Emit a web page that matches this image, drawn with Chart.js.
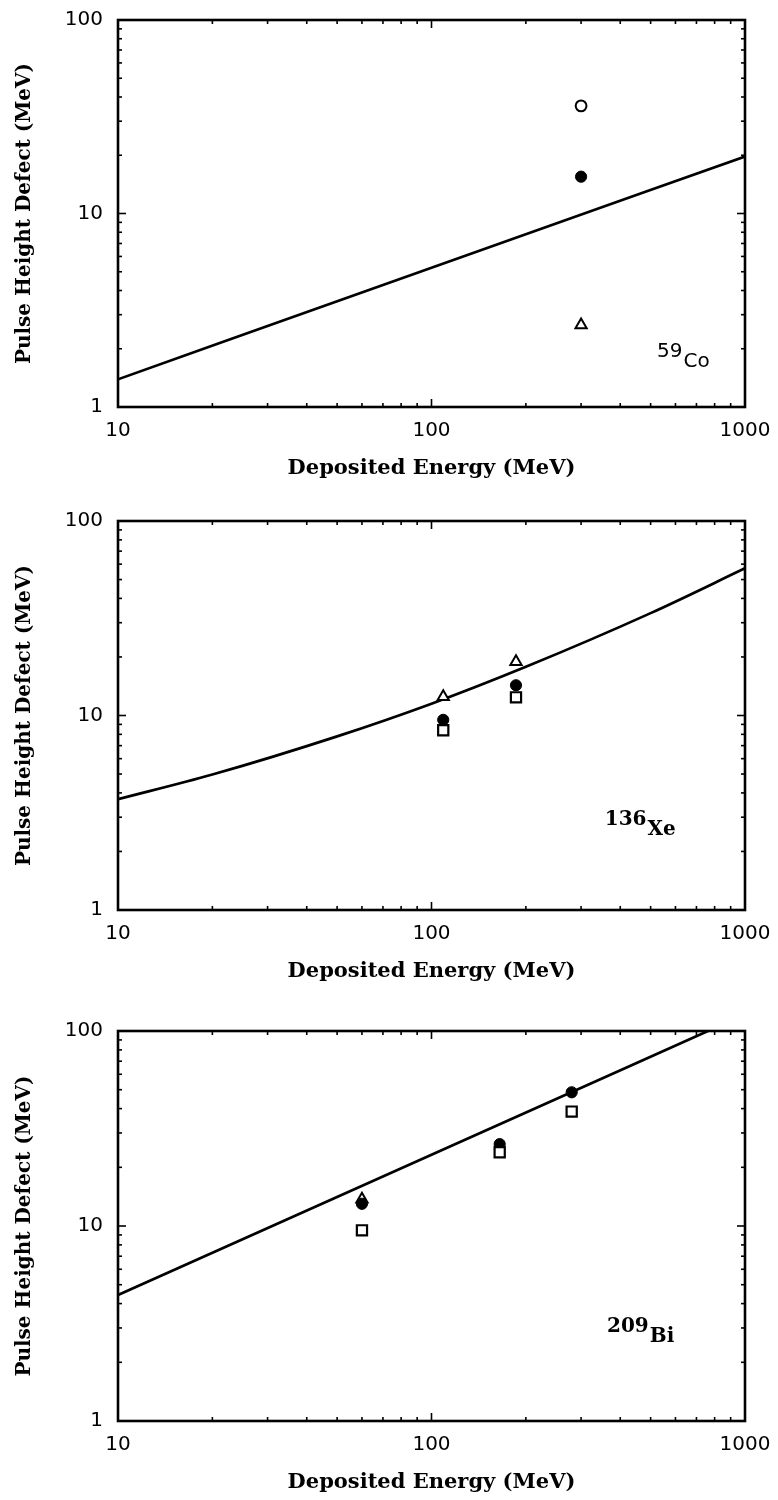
<!DOCTYPE html>
<html>
<head>
<meta charset="utf-8">
<script src="https://cdn.jsdelivr.net/npm/chart.js@4.4.1/dist/chart.umd.min.js"></script>
<style>
  html, body { margin: 0; padding: 0; background: #fff; }
  .panel { position: relative; width: 778px; height: 500px; }
  canvas { display: block; }
</style>
</head>
<body>
<div class="panel"><canvas id="co" width="778" height="500"></canvas></div>
<div class="panel"><canvas id="xe" width="778" height="500"></canvas></div>
<div class="panel"><canvas id="bi" width="778" height="500"></canvas></div>
<script>
// Axis tick labels (log-log axes)
const xTickValues = [10, 100, 1000];
const yTickValues = [1, 10, 100];
const minorSteps = [2, 3, 4, 5, 6, 7, 8, 9];

// ---- 59Co ----
const coCurveE   = [10, 100, 1000];
const coCurvePHD = [1.39, 5.25, 19.7];
const coOpenCircleE   = [300];
const coOpenCirclePHD = [36];
const coFilledCircleE   = [300];
const coFilledCirclePHD = [15.5];
const coTriangleE   = [300];
const coTrianglePHD = [2.65];
const coSquareE   = [];
const coSquarePHD = [];

// ---- 136Xe ----
const xeCurveE   = [10, 20, 50, 100, 200, 500, 1000];
const xeCurvePHD = [3.71, 4.97, 7.81, 11.5, 17.8, 33.6, 57.1];
const xeOpenCircleE   = [];
const xeOpenCirclePHD = [];
const xeFilledCircleE   = [109, 186];
const xeFilledCirclePHD = [9.5, 14.3];
const xeTriangleE   = [109, 186];
const xeTrianglePHD = [12.5, 18.9];
const xeSquareE   = [109, 186];
const xeSquarePHD = [8.4, 12.4];

// ---- 209Bi ----
const biCurveE   = [10, 100, 762];
const biCurvePHD = [4.43, 23.2, 100];
const biOpenCircleE   = [];
const biOpenCirclePHD = [];
const biFilledCircleE   = [60, 165, 280];
const biFilledCirclePHD = [13.0, 26.3, 48.5];
const biTriangleE   = [60];
const biTrianglePHD = [13.7];
const biSquareE   = [60, 165, 280];
const biSquarePHD = [9.5, 23.9, 38.6];

// Nuclide labels: mass number, symbol, anchor (energy, defect) in data units
const coLabel = { mass: '59',  symbol: 'Co', e: 524, phd: 1.61, font: 'sans' };
const xeLabel = { mass: '136', symbol: 'Xe', e: 357, phd: 2.43, font: 'serif' };
const biLabel = { mass: '209', symbol: 'Bi', e: 363, phd: 2.54, font: 'serif' };

const pts = (xs, ys) => xs.map((v, i) => ({ x: v, y: ys[i] }));

// Frame around the plot area plus inward major/minor ticks on all four sides
const frameAndTicks = {
  id: 'frameAndTicks',
  afterDraw(chart) {
    const { ctx, chartArea: a, scales: { x, y } } = chart;
    ctx.save();
    ctx.strokeStyle = '#000';
    ctx.lineCap = 'butt';
    const seg = (x1, y1, x2, y2) => { ctx.beginPath(); ctx.moveTo(x1, y1); ctx.lineTo(x2, y2); ctx.stroke(); };
    ctx.lineWidth = 1.6;
    const decadesX = xTickValues.slice(0, -1);
    decadesX.forEach(d => {
      [1].concat(minorSteps).forEach(m => {
        const px = x.getPixelForValue(d * m);
        const len = m === 1 ? 8 : 4;
        seg(px, a.bottom, px, a.bottom - len);
        seg(px, a.top, px, a.top + len);
      });
    });
    const decadesY = yTickValues.slice(0, -1);
    decadesY.forEach(d => {
      [1].concat(minorSteps).forEach(m => {
        const py = y.getPixelForValue(d * m);
        const len = m === 1 ? 8 : 4;
        seg(a.left, py, a.left + len, py);
        seg(a.right, py, a.right - len, py);
      });
    });
    ctx.lineWidth = 2.6;
    ctx.strokeRect(a.left, a.top, a.right - a.left, a.bottom - a.top);
    ctx.restore();
  }
};

// Nuclide label with raised mass number
const nuclideLabel = {
  id: 'nuclideLabel',
  afterDatasetsDraw(chart, args, opts) {
    const lab = opts.label;
    if (!lab) return;
    const { ctx, scales: { x, y } } = chart;
    const px = x.getPixelForValue(lab.e);
    const py = y.getPixelForValue(lab.phd);
    ctx.save();
    ctx.fillStyle = '#000';
    ctx.textBaseline = 'alphabetic';
    ctx.textAlign = 'left';
    ctx.font = lab.font === 'sans' ? '20px "DejaVu Sans"' : 'bold 20px "DejaVu Serif"';
    ctx.fillText(lab.mass, px, py - 10);
    const w = ctx.measureText(lab.mass).width;
    ctx.fillText(lab.symbol, px + w + 1, py);
    ctx.restore();
  }
};

// Fixed axis box sizes; edge labels may overhang into the page margins
function fixBox(s, size) {
  if (s.isHorizontal()) s.height = size; else s.width = size;
  s.paddingTop = 0; s.paddingBottom = 0; s.paddingLeft = 0; s.paddingRight = 0;
}

function makeChart(id, geom, d, label) {
  const titleFont = { family: '"DejaVu Serif"', weight: 'bold', size: 21, lineHeight: 1.2 };
  const tickFont = { family: '"DejaVu Sans"', size: 20, lineHeight: 1.2 };
  const marker = (data, style, radius, fill, bw) => ({
    type: 'scatter', data, showLine: false,
    pointStyle: style, pointRadius: radius, pointHoverRadius: radius,
    pointBackgroundColor: fill, pointBorderColor: '#000', pointBorderWidth: bw
  });
  // earlier datasets are painted on top
  return new Chart(document.getElementById(id), {
    type: 'scatter',
    data: {
      datasets: [
        marker(pts(d.squareE, d.squarePHD), 'rect', 7.2, '#fff', 2.2),
        marker(pts(d.filledE, d.filledPHD), 'circle', 5.6, '#000', 1),
        marker(pts(d.triangleE, d.trianglePHD), 'triangle', 6.5, '#fff', 2),
        marker(pts(d.openE, d.openPHD), 'circle', 5.4, '#fff', 2),
        {
          type: 'line', data: pts(d.curveE, d.curvePHD), showLine: true,
          borderColor: '#000', borderWidth: 2.7, pointRadius: 0,
          tension: 0.4, cubicInterpolationMode: 'monotone', fill: false
        }
      ]
    },
    options: {
      responsive: false,
      animation: false,
      events: [],
      layout: { padding: { top: geom.top, right: 33, left: 0, bottom: 0 } },
      plugins: {
        legend: { display: false },
        tooltip: { enabled: false },
        nuclideLabel: { label }
      },
      scales: {
        x: {
          type: 'logarithmic', min: 10, max: 1000,
          afterBuildTicks: s => { s.ticks = xTickValues.map(v => ({ value: v })); },
          afterFit: s => fixBox(s, 500 - geom.bottom),
          grid: { display: false, drawTicks: false },
          border: { display: false },
          ticks: { color: '#000', font: tickFont, padding: 12, maxRotation: 0, callback: v => String(v) },
          title: {
            display: true, text: 'Deposited Energy (MeV)', color: '#000', font: titleFont,
            padding: { top: 0, bottom: 500 - (geom.bottom + 62) - 12.6 }
          }
        },
        y: {
          type: 'logarithmic', min: 1, max: 100,
          afterBuildTicks: s => { s.ticks = yTickValues.map(v => ({ value: v })); },
          afterFit: s => fixBox(s, 118),
          grid: { display: false, drawTicks: false },
          border: { display: false },
          ticks: { color: '#000', font: tickFont, padding: 15, callback: v => String(v) },
          title: {
            display: true, text: 'Pulse Height Defect (MeV)', color: '#000',
            font: { family: '"DejaVu Serif"', weight: 'bold', size: 20, lineHeight: 1.2 },
            padding: { top: 13, bottom: 0 }
          }
        }
      }
    },
    plugins: [frameAndTicks, nuclideLabel]
  });
}

makeChart('co', { top: 20, bottom: 407 }, {
  curveE: coCurveE, curvePHD: coCurvePHD,
  openE: coOpenCircleE, openPHD: coOpenCirclePHD,
  filledE: coFilledCircleE, filledPHD: coFilledCirclePHD,
  triangleE: coTriangleE, trianglePHD: coTrianglePHD,
  squareE: coSquareE, squarePHD: coSquarePHD
}, coLabel);

makeChart('xe', { top: 21, bottom: 410 }, {
  curveE: xeCurveE, curvePHD: xeCurvePHD,
  openE: xeOpenCircleE, openPHD: xeOpenCirclePHD,
  filledE: xeFilledCircleE, filledPHD: xeFilledCirclePHD,
  triangleE: xeTriangleE, trianglePHD: xeTrianglePHD,
  squareE: xeSquareE, squarePHD: xeSquarePHD
}, xeLabel);

makeChart('bi', { top: 31, bottom: 421 }, {
  curveE: biCurveE, curvePHD: biCurvePHD,
  openE: biOpenCircleE, openPHD: biOpenCirclePHD,
  filledE: biFilledCircleE, filledPHD: biFilledCirclePHD,
  triangleE: biTriangleE, trianglePHD: biTrianglePHD,
  squareE: biSquareE, squarePHD: biSquarePHD
}, biLabel);
</script>
</body>
</html>
